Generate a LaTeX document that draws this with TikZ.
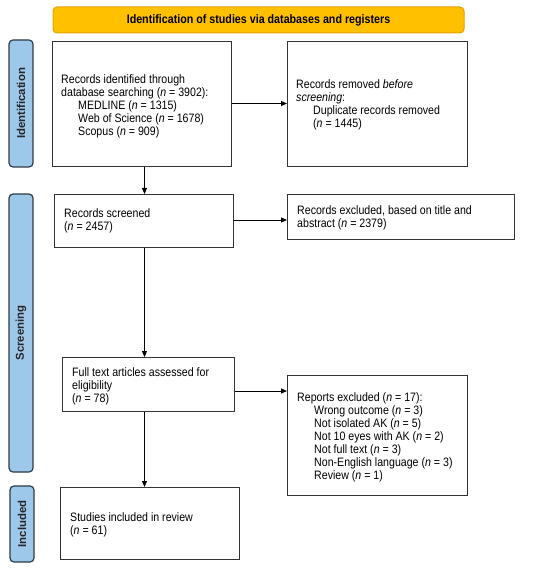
\documentclass[tikz,border=0pt]{standalone}
\usepackage{fontspec}
\setmainfont{Liberation Sans}[FakeStretch=0.87]
\newfontfamily\sidefont{Liberation Sans}
\usetikzlibrary{arrows.meta,calc}
\definecolor{gold}{HTML}{FFC000}
\definecolor{goldline}{HTML}{E3A300}
\definecolor{sideblue}{HTML}{9DC8EA}
\definecolor{sideline}{HTML}{2E3B48}
\definecolor{boxline}{HTML}{333333}
\tikzset{
  box/.style={draw=boxline, line width=1pt, rectangle, anchor=north west, inner sep=0pt},
  txt/.style={anchor=west, align=left, inner sep=0pt,
    font=\fontsize{12.2pt}{13pt}\selectfont},
  side/.style={draw=sideline, fill=sideblue, line width=1.2pt, rounded corners=4pt,
    rotate=90, minimum height=24pt, inner sep=0pt,
    font=\sidefont\bfseries\fontsize{11.4pt}{13pt}\selectfont, text=black!85},
  banner/.style={draw=goldline, fill=gold, line width=1pt, rounded corners=4pt,
    minimum width=411pt, minimum height=26pt, inner sep=0pt,
    font=\bfseries\fontsize{12.3pt}{13pt}\selectfont},
  arr/.style={draw=black, line width=1pt, -{Triangle[length=6pt,width=5pt]}}
}
\newcommand{\ind}{\hspace*{17pt}}
\begin{document}
\begin{tikzpicture}[x=1pt,y=-1pt]
\useasboundingbox (0,0) rectangle (550,569);
\node[banner] (ban) at (258.5,20) {Identification of studies via databases and registers};
\node[side, minimum width=127pt] (sid) at (21,103.5) {Identification};
\node[side, minimum width=278pt] (sscr) at (21,333) {Screening};
\node[side, minimum width=76pt] (sinc) at (22,524) {Included};

\node[box, minimum width=179pt, minimum height=125pt] (b1) at (52,41) {};
\node[txt] (t1) at ($(b1.west)+(9,2)$)
 {Records identified through\\database searching (\textit{n} = 3902):\\\ind MEDLINE (\textit{n} = 1315)\\\ind Web of Science (\textit{n} = 1678)\\\ind Scopus (\textit{n} = 909)};
\node[box, minimum width=180pt, minimum height=125pt] (b2) at (287,41) {};
\node[txt] (t2) at ($(b2.west)+(9,1)$)
 {Records removed \textit{before}\\\textit{screening}:\\\ind Duplicate records removed\\\ind (\textit{n} = 1445)};
\node[box, minimum width=179pt, minimum height=53pt] (b3) at (54,194) {};
\node[txt] (t3) at ($(b3.west)+(10,0)$)
 {Records screened\\(\textit{n} = 2457)};
\node[box, minimum width=227pt, minimum height=45pt] (b4) at (287,194) {};
\node[txt] (t4) at ($(b4.west)+(10,1)$)
 {Records excluded, based on title and\\abstract (\textit{n} = 2379)};
\node[box, minimum width=172pt, minimum height=54pt] (b5) at (62,357) {};
\node[txt] (t5) at ($(b5.west)+(10,2)$)
 {Full text articles assessed for\\eligibility\\(\textit{n} = 78)};
\node[box, minimum width=180pt, minimum height=120pt] (b6) at (287,375) {};
\node[txt] (t6) at ($(b6.west)+(10,2)$)
 {Reports excluded (\textit{n} = 17):\\\ind Wrong outcome (\textit{n} = 3)\\\ind Not isolated AK (\textit{n} = 5)\\\ind Not 10 eyes with AK (\textit{n} = 2)\\\ind Not full text (\textit{n} = 3)\\\ind Non-English language (\textit{n} = 3)\\\ind Review (\textit{n} = 1)};
\node[box, minimum width=179pt, minimum height=72pt] (b7) at (60,487) {};
\node[txt] (t7) at ($(b7.west)+(10,1)$)
 {Studies included in review\\(\textit{n} = 61)};

\coordinate (vx) at (144.5,0);
\coordinate (h1) at (0,103.5);
\coordinate (h2) at (0,220);
\coordinate (h3) at (0,391);
\draw[arr] (b1.east |- h1) -- (b2.west |- h1);
\draw[arr] (b3.east |- h2) -- (b4.west |- h2);
\draw[arr] (b5.east |- h3) -- (b6.west |- h3);
\draw[arr] (b1.south -| vx) -- (b3.north -| vx);
\draw[arr] (b3.south -| vx) -- (b5.north -| vx);
\draw[arr] (b5.south -| vx) -- (b7.north -| vx);
\end{tikzpicture}
\end{document}
